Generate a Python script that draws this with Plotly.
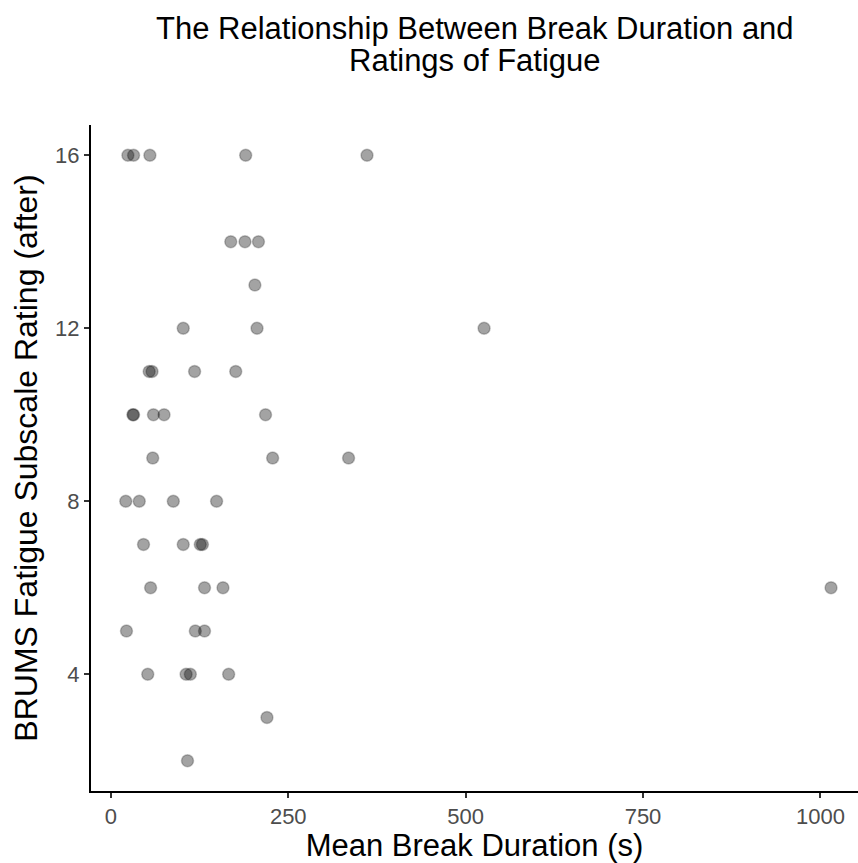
import plotly.graph_objects as go

# Data
break_duration = [24, 32, 55, 190, 361,
                  169, 189, 208,
                  203,
                  102, 206, 526,
                  54, 58, 118, 176,
                  31, 32, 60, 75, 218,
                  59, 228, 335,
                  21, 40, 88, 149,
                  46, 102, 126, 129,
                  56, 132, 158, 1015,
                  22, 119, 132,
                  52, 106, 112, 166,
                  220,
                  108]
fatigue = [16, 16, 16, 16, 16,
           14, 14, 14,
           13,
           12, 12, 12,
           11, 11, 11, 11,
           10, 10, 10, 10, 10,
           9, 9, 9,
           8, 8, 8, 8,
           7, 7, 7, 7,
           6, 6, 6, 6,
           5, 5, 5,
           4, 4, 4, 4,
           3,
           2]
x_ticks = [0, 250, 500, 750, 1000]
y_ticks = [4, 8, 12, 16]
title_lines = ["The Relationship Between Break Duration and", "Ratings of Fatigue"]

FONT = "Liberation Sans, Arial, sans-serif"
H = 863
T, B = 125, 72
plot_h = H - T - B

fig = go.Figure()
fig.add_trace(go.Scatter(
    x=break_duration, y=fatigue, mode="markers",
    marker=dict(size=12, color="rgba(0,0,0,0.36)",
                line=dict(color="rgba(0,0,0,0.22)", width=1.5)),
    showlegend=False, hoverinfo="x+y"))

axis_common = dict(showline=True, linecolor="black", linewidth=2,
                   ticks="outside", ticklen=5, tickwidth=2, tickcolor="#333333",
                   tickfont=dict(family=FONT, size=22, color="#4d4d4d"),
                   showgrid=False, zeroline=False, mirror=False)

# title as two centred lines (centred over the panel)
for line, ypx in zip(title_lines, [28, 61]):
    fig.add_annotation(text=line, xref="paper", x=0.5, xanchor="center",
                       yref="paper", y=1 + (T - ypx) / plot_h, yanchor="middle",
                       showarrow=False,
                       font=dict(family=FONT, size=31, color="black"))

fig.update_layout(
    width=858, height=H,
    margin=dict(l=91, r=0, t=T, b=B, autoexpand=False),
    paper_bgcolor="white", plot_bgcolor="white",
    font=dict(family=FONT, color="black"),
    xaxis=dict(range=[-28, 1053], tickvals=x_ticks, automargin=False,
               title=dict(text="Mean Break Duration (s)", font=dict(family=FONT, size=31, color="black"), standoff=6),
               **axis_common),
    yaxis=dict(range=[1.3, 16.7], tickvals=y_ticks, automargin=False,
               title=dict(text="BRUMS Fatigue Subscale Rating (after)", font=dict(family=FONT, size=32, color="black"), standoff=8),
               **axis_common),
)

fig.write_html("out.html")
